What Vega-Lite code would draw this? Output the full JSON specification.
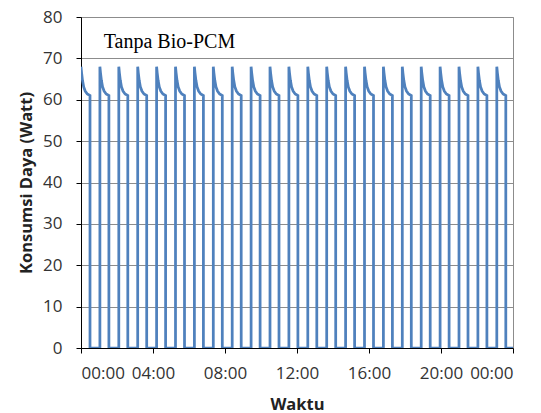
{
  "$schema": "https://vega.github.io/schema/vega-lite/v6.json",
  "width": 432,
  "height": 331,
  "autosize": {"type": "none"},
  "padding": {"left": 81, "top": 17, "right": 28, "bottom": 65},
  "background": "white",
  "config": {
    "view": {"stroke": "#8c8c8c", "strokeWidth": 1},
    "axis": {
      "labelFont": "Open Sans",
      "labelFontSize": 17,
      "labelColor": "#333333",
      "titleFont": "Open Sans",
      "titleFontSize": 16.5,
      "titleFontWeight": "bold",
      "titleColor": "#222222",
      "domainColor": "#000000",
      "tickColor": "#000000",
      "gridColor": "#8c8c8c",
      "gridWidth": 1
    }
  },
  "layer": [
    {
      "data": {
        "values": [
          {"t":0,"w":68},{"t":2,"w":66.5},{"t":5,"w":64.7},{"t":9,"w":63.1},{"t":14,"w":62.1},{"t":21,"w":61.4},{"t":30,"w":61},{"t":30,"w":0},
          {"t":63,"w":0},{"t":63,"w":68},{"t":65,"w":66.5},{"t":68,"w":64.7},{"t":72,"w":63.1},{"t":77,"w":62.1},{"t":84,"w":61.4},{"t":93,"w":61},{"t":93,"w":0},
          {"t":126,"w":0},{"t":126,"w":68},{"t":128,"w":66.5},{"t":131,"w":64.7},{"t":135,"w":63.1},{"t":140,"w":62.1},{"t":147,"w":61.4},{"t":156,"w":61},{"t":156,"w":0},
          {"t":189,"w":0},{"t":189,"w":68},{"t":191,"w":66.5},{"t":194,"w":64.7},{"t":198,"w":63.1},{"t":203,"w":62.1},{"t":210,"w":61.4},{"t":219,"w":61},{"t":219,"w":0},
          {"t":252,"w":0},{"t":252,"w":68},{"t":254,"w":66.5},{"t":257,"w":64.7},{"t":261,"w":63.1},{"t":266,"w":62.1},{"t":273,"w":61.4},{"t":282,"w":61},{"t":282,"w":0},
          {"t":315,"w":0},{"t":315,"w":68},{"t":317,"w":66.5},{"t":320,"w":64.7},{"t":324,"w":63.1},{"t":329,"w":62.1},{"t":336,"w":61.4},{"t":345,"w":61},{"t":345,"w":0},
          {"t":378,"w":0},{"t":378,"w":68},{"t":380,"w":66.5},{"t":383,"w":64.7},{"t":387,"w":63.1},{"t":392,"w":62.1},{"t":399,"w":61.4},{"t":408,"w":61},{"t":408,"w":0},
          {"t":441,"w":0},{"t":441,"w":68},{"t":443,"w":66.5},{"t":446,"w":64.7},{"t":450,"w":63.1},{"t":455,"w":62.1},{"t":462,"w":61.4},{"t":471,"w":61},{"t":471,"w":0},
          {"t":504,"w":0},{"t":504,"w":68},{"t":506,"w":66.5},{"t":509,"w":64.7},{"t":513,"w":63.1},{"t":518,"w":62.1},{"t":525,"w":61.4},{"t":534,"w":61},{"t":534,"w":0},
          {"t":567,"w":0},{"t":567,"w":68},{"t":569,"w":66.5},{"t":572,"w":64.7},{"t":576,"w":63.1},{"t":581,"w":62.1},{"t":588,"w":61.4},{"t":597,"w":61},{"t":597,"w":0},
          {"t":630,"w":0},{"t":630,"w":68},{"t":632,"w":66.5},{"t":635,"w":64.7},{"t":639,"w":63.1},{"t":644,"w":62.1},{"t":651,"w":61.4},{"t":660,"w":61},{"t":660,"w":0},
          {"t":693,"w":0},{"t":693,"w":68},{"t":695,"w":66.5},{"t":698,"w":64.7},{"t":702,"w":63.1},{"t":707,"w":62.1},{"t":714,"w":61.4},{"t":723,"w":61},{"t":723,"w":0},
          {"t":756,"w":0},{"t":756,"w":68},{"t":758,"w":66.5},{"t":761,"w":64.7},{"t":765,"w":63.1},{"t":770,"w":62.1},{"t":777,"w":61.4},{"t":786,"w":61},{"t":786,"w":0},
          {"t":819,"w":0},{"t":819,"w":68},{"t":821,"w":66.5},{"t":824,"w":64.7},{"t":828,"w":63.1},{"t":833,"w":62.1},{"t":840,"w":61.4},{"t":849,"w":61},{"t":849,"w":0},
          {"t":882,"w":0},{"t":882,"w":68},{"t":884,"w":66.5},{"t":887,"w":64.7},{"t":891,"w":63.1},{"t":896,"w":62.1},{"t":903,"w":61.4},{"t":912,"w":61},{"t":912,"w":0},
          {"t":945,"w":0},{"t":945,"w":68},{"t":947,"w":66.5},{"t":950,"w":64.7},{"t":954,"w":63.1},{"t":959,"w":62.1},{"t":966,"w":61.4},{"t":975,"w":61},{"t":975,"w":0},
          {"t":1008,"w":0},{"t":1008,"w":68},{"t":1010,"w":66.5},{"t":1013,"w":64.7},{"t":1017,"w":63.1},{"t":1022,"w":62.1},{"t":1029,"w":61.4},{"t":1038,"w":61},{"t":1038,"w":0},
          {"t":1071,"w":0},{"t":1071,"w":68},{"t":1073,"w":66.5},{"t":1076,"w":64.7},{"t":1080,"w":63.1},{"t":1085,"w":62.1},{"t":1092,"w":61.4},{"t":1101,"w":61},{"t":1101,"w":0},
          {"t":1134,"w":0},{"t":1134,"w":68},{"t":1136,"w":66.5},{"t":1139,"w":64.7},{"t":1143,"w":63.1},{"t":1148,"w":62.1},{"t":1155,"w":61.4},{"t":1164,"w":61},{"t":1164,"w":0},
          {"t":1197,"w":0},{"t":1197,"w":68},{"t":1199,"w":66.5},{"t":1202,"w":64.7},{"t":1206,"w":63.1},{"t":1211,"w":62.1},{"t":1218,"w":61.4},{"t":1227,"w":61},{"t":1227,"w":0},
          {"t":1260,"w":0},{"t":1260,"w":68},{"t":1262,"w":66.5},{"t":1265,"w":64.7},{"t":1269,"w":63.1},{"t":1274,"w":62.1},{"t":1281,"w":61.4},{"t":1290,"w":61},{"t":1290,"w":0},
          {"t":1323,"w":0},{"t":1323,"w":68},{"t":1325,"w":66.5},{"t":1328,"w":64.7},{"t":1332,"w":63.1},{"t":1337,"w":62.1},{"t":1344,"w":61.4},{"t":1353,"w":61},{"t":1353,"w":0},
          {"t":1386,"w":0},{"t":1386,"w":68},{"t":1388,"w":66.5},{"t":1391,"w":64.7},{"t":1395,"w":63.1},{"t":1400,"w":62.1},{"t":1407,"w":61.4},{"t":1416,"w":61},{"t":1416,"w":0},
          {"t":1440,"w":0}
        ]
      },
      "mark": {"type": "line", "color": "#4f81bd", "strokeWidth": 2.75, "clip": true},
      "encoding": {
        "x": {
          "field": "t", "type": "quantitative",
          "scale": {"domain": [0, 1440], "nice": false, "zero": false},
          "axis": {
            "title": "Waktu",
            "values": [0, 240, 480, 720, 960, 1200, 1440],
            "labelExpr": "format(floor(datum.value / 60) % 24, '02d') + ':00'",
            "grid": false,
            "tickSize": 5,
            "labelPadding": 12,
            "titleY": 56,
            "titleBaseline": "middle"
          }
        },
        "y": {
          "field": "w", "type": "quantitative",
          "scale": {"domain": [0, 80], "nice": false},
          "axis": {
            "title": "Konsumsi Daya (Watt)",
            "values": [0, 10, 20, 30, 40, 50, 60, 70, 80],
            "tickSize": 5,
            "labelPadding": 14,
            "titleX": -55,
            "titleBaseline": "middle"
          }
        },
        "order": {"value": null}
      }
    },
    {
      "data": {"values": [{"t": 76, "w": 74, "label": "Tanpa Bio-PCM"}]},
      "mark": {"type": "text", "font": "Liberation Serif", "fontSize": 20, "align": "left", "baseline": "middle", "color": "#000000"},
      "encoding": {
        "x": {"field": "t", "type": "quantitative"},
        "y": {"field": "w", "type": "quantitative"},
        "text": {"field": "label"}
      }
    }
  ]
}
